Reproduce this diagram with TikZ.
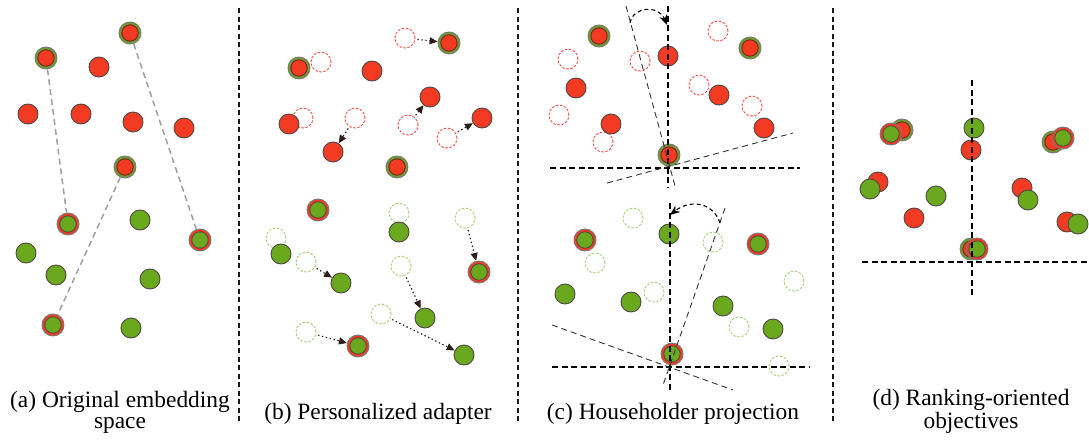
\documentclass[tikz,border=0pt]{standalone}
\usepackage{fontspec}
\setmainfont{Liberation Serif}
\usetikzlibrary{arrows.meta}
\definecolor{myred}{RGB}{243,58,34}
\definecolor{darkred}{RGB}{110,30,20}
\definecolor{mygreen}{RGB}{106,168,30}
\definecolor{ringgreen}{RGB}{108,158,42}
\definecolor{outl}{RGB}{78,72,66}
\definecolor{ringout}{RGB}{120,120,120}
\definecolor{dashred}{RGB}{245,75,65}
\definecolor{dashgreen}{RGB}{160,206,110}
\definecolor{arrowc}{RGB}{45,30,25}
\begin{document}
\begin{tikzpicture}[x=1pt,y=-1pt,
  dot/.style={circle, inner sep=0pt, minimum size=20pt, draw=outl, line width=0.9pt},
  rc/.style={dot, fill=myred},
  gc/.style={dot, fill=mygreen},
  gr/.style={dot, minimum size=22pt, fill=ringgreen, draw=ringout,
    path picture={\fill[myred, draw=darkred, line width=0.8pt] (path picture bounding box.center) circle (8.2pt);}},
  rg/.style={dot, minimum size=22pt, fill=myred, draw=ringout,
    path picture={\fill[mygreen, draw=outl, line width=0.8pt] (path picture bounding box.center) circle (8.2pt);}},
  dr/.style={circle, inner sep=0pt, minimum size=20pt, draw=dashred, line width=0.9pt, dash pattern=on 2.5pt off 1.6pt},
  dg/.style={circle, inner sep=0pt, minimum size=20pt, draw=dashgreen, line width=0.9pt, dash pattern=on 2.5pt off 1.6pt},
  link/.style={draw=black!38, line width=1.5pt, dash pattern=on 6pt off 4pt},
  mv/.style={draw=arrowc, line width=1.2pt, dash pattern=on 1.4pt off 2.6pt, shorten <=2pt,
    -{Triangle[length=8pt,width=7pt]}},
  divider/.style={draw=black!90, line width=1.3pt, dash pattern=on 5pt off 3.5pt},
  axis/.style={draw=black, line width=1.3pt, dash pattern=on 6pt off 3.5pt},
  tilt/.style={draw=black!80, line width=0.9pt, dash pattern=on 6pt off 4pt},
  rot/.style={draw=black, line width=1.1pt, dash pattern=on 4pt off 3pt, -{Stealth[length=10pt,width=8pt]}},
  captext/.style={font=\rmfamily\fontsize{23.4}{20.5}\selectfont, align=center, anchor=base, inner sep=0pt}
]
\useasboundingbox (0,0) rectangle (1089,439);

% dividers
\coordinate (v1t) at (239,8); \coordinate (v1b) at (239,423);
\coordinate (v2t) at (518,8); \coordinate (v2b) at (518,423);
\coordinate (v3t) at (833,8); \coordinate (v3b) at (833,423);
\draw[divider] (v1t) -- (v1b);
\draw[divider] (v2t) -- (v2b);
\draw[divider] (v3t) -- (v3b);

% ---------- (a) ----------
\node[gr] (a1) at (130,33) {};
\node[gr] (a2) at (46,58) {};
\node[rc] (a3) at (99,67) {};
\node[rc] (a4) at (28,114) {};
\node[rc] (a5) at (81,114) {};
\node[rc] (a6) at (133,122) {};
\node[rc] (a7) at (184,128) {};
\node[gr] (a8) at (125,167) {};
\node[rg] (a9) at (68,224) {};
\node[gc] (a10) at (140,220) {};
\node[rg] (a11) at (200,240) {};
\node[gc] (a12) at (26,253) {};
\node[gc] (a13) at (56,275) {};
\node[gc] (a14) at (150,279) {};
\node[rg] (a15) at (53,325) {};
\node[gc] (a16) at (131,328) {};
\draw[link] (a2) -- (a9);
\draw[link] (a1) -- (a11);
\draw[link] (a8) -- (a15);

% ---------- (b) ----------
\node[dr] (b1) at (405,38) {};
\node[dr] (b4) at (321,62) {};
\node[dr] (b6) at (408,125) {};
\node[dr] (b8) at (303,118) {};
\node[dr] (b10) at (355,118) {};
\node[dr] (b12) at (447,138) {};
\node[dg] (b16) at (399,213) {};
\node[dg] (b18) at (465,218) {};
\node[dg] (b20) at (276,238) {};
\node[dg] (b22) at (306,262) {};
\node[dg] (b24) at (401,266) {};
\node[dg] (b26) at (381,314) {};
\node[dg] (b28) at (306,332) {};
\node[gr] (b2) at (449,43) {};
\node[gr] (b3) at (299,68) {};
\node[rc] (b5) at (372,71) {};
\node[rc] (b7) at (430,97) {};
\node[rc] (b9) at (289,124) {};
\node[rc] (b11) at (333,152) {};
\node[rc] (b13) at (482,118) {};
\node[gr] (b14) at (397,167) {};
\node[rg] (b15) at (318,210) {};
\node[gc] (b17) at (399,232) {};
\node[rg] (b19) at (479,272) {};
\node[gc] (b21) at (281,254) {};
\node[gc] (b23) at (341,283) {};
\node[gc] (b25) at (425,318) {};
\node[gc] (b27) at (464,355) {};
\node[rg] (b29) at (358,346) {};
\draw[mv] (b1) -- (b2);
\draw[mv] (b6) -- (b7);
\draw[mv] (b10) -- (b11);
\draw[mv] (b12) -- (b13);
\draw[mv] (b18) -- (b19);
\draw[mv] (b22) -- (b23);
\draw[mv] (b24) -- (b25);
\draw[mv] (b26) -- (b27);
\draw[mv] (b28) -- (b29);

% ---------- (c) top ----------
\node[dr] (c1) at (568,59) {};
\node[dr] (c2) at (559,115) {};
\node[dr] (c3) at (603,142) {};
\node[dr] (c4) at (640,61) {};
\node[dr] (c5) at (718,31) {};
\node[dr] (c6) at (699,85) {};
\node[dr] (c7) at (752,106) {};
\node[gr] (c8) at (599,36) {};
\node[rc] (c9) at (576,88) {};
\node[rc] (c10) at (611,124) {};
\node[rc] (c11) at (668,56) {};
\node[gr] (c12) at (669,155) {};
\node[gr] (c13) at (750,48) {};
\node[rc] (c14) at (719,95) {};
\node[rc] (c15) at (764,128) {};
\coordinate (cvt) at (668,6); \coordinate (cvb) at (668,187);
\coordinate (chl) at (550,168); \coordinate (chr) at (800,168);
\coordinate (ct1a) at (626,6); \coordinate (ct1b) at (675,186);
\coordinate (ct2a) at (607,183); \coordinate (ct2b) at (793,133);
\coordinate (crs) at (630,23); \coordinate (cre) at (667,25);
\draw[axis] (cvt) -- (cvb);
\draw[axis] (chl) -- (chr);
\draw[tilt] (ct1a) -- (ct1b);
\draw[tilt] (ct2a) -- (ct2b);
\draw[rot] (crs) .. controls (633,6) and (659,5) .. (cre);

% ---------- (c) bottom ----------
\node[dg] (e1) at (633,218) {};
\node[dg] (e2) at (713,242) {};
\node[dg] (e3) at (595,263) {};
\node[dg] (e4) at (794,281) {};
\node[dg] (e5) at (654,292) {};
\node[dg] (e6) at (739,327) {};
\node[dg] (e7) at (779,366) {};
\node[gc] (e8) at (669,234) {};
\node[rg] (e9) at (585,240) {};
\node[rg] (e10) at (758,244) {};
\node[gc] (e11) at (565,294) {};
\node[gc] (e12) at (631,302) {};
\node[gc] (e13) at (723,306) {};
\node[gc] (e14) at (773,329) {};
\node[rg] (e15) at (672,354) {};
\coordinate (evt) at (670,203); \coordinate (evb) at (670,392);
\coordinate (ehl) at (552,367); \coordinate (ehr) at (810,367);
\coordinate (et1a) at (725,208); \coordinate (et1b) at (663,385);
\coordinate (et2a) at (552,325); \coordinate (et2b) at (733,390);
\coordinate (ers) at (720,223); \coordinate (ere) at (670,215);
\draw[axis] (evt) -- (evb);
\draw[axis] (ehl) -- (ehr);
\draw[tilt] (et1a) -- (et1b);
\draw[tilt] (et2a) -- (et2b);
\draw[rot] (ers) .. controls (713,202) and (690,199) .. (ere);

% ---------- (d) ----------
\node[gr] (d1) at (902,130) {};
\node[rg] (d2) at (891,134) {};
\node[gc] (d3) at (974,128) {};
\node[rc] (d4) at (971,150) {};
\node[rc] (d5) at (878,182) {};
\node[gc] (d6) at (870,189) {};
\node[gc] (d7) at (936,196) {};
\node[rc] (d8) at (914,218) {};
\node[gr] (d9) at (1053,142) {};
\node[rg] (d10) at (1063,138) {};
\node[rc] (d11) at (1022,188) {};
\node[gc] (d12) at (1028,200) {};
\node[rc] (d13) at (1067,222) {};
\node[gc] (d14) at (1078,224) {};
\node[gr] (d15) at (971,249) {};
\node[rg] (d16) at (977,249) {};
\coordinate (dvt) at (972,80); \coordinate (dvb) at (972,296);
\coordinate (dhl) at (862,262); \coordinate (dhr) at (1089,262);
\draw[axis] (dvt) -- (dvb);
\draw[axis] (dhl) -- (dhr);

% ---------- captions ----------
\node[captext] (capa) at (120,428) {(a) Original embedding\\space};
\node[captext] (capb) at (378,419) {(b) Personalized adapter};
\node[captext] (capc) at (673,419) {(c) Householder projection};
\node[captext] (capd) at (971,428) {(d) Ranking-oriented\\objectives};
\end{tikzpicture}
\end{document}
